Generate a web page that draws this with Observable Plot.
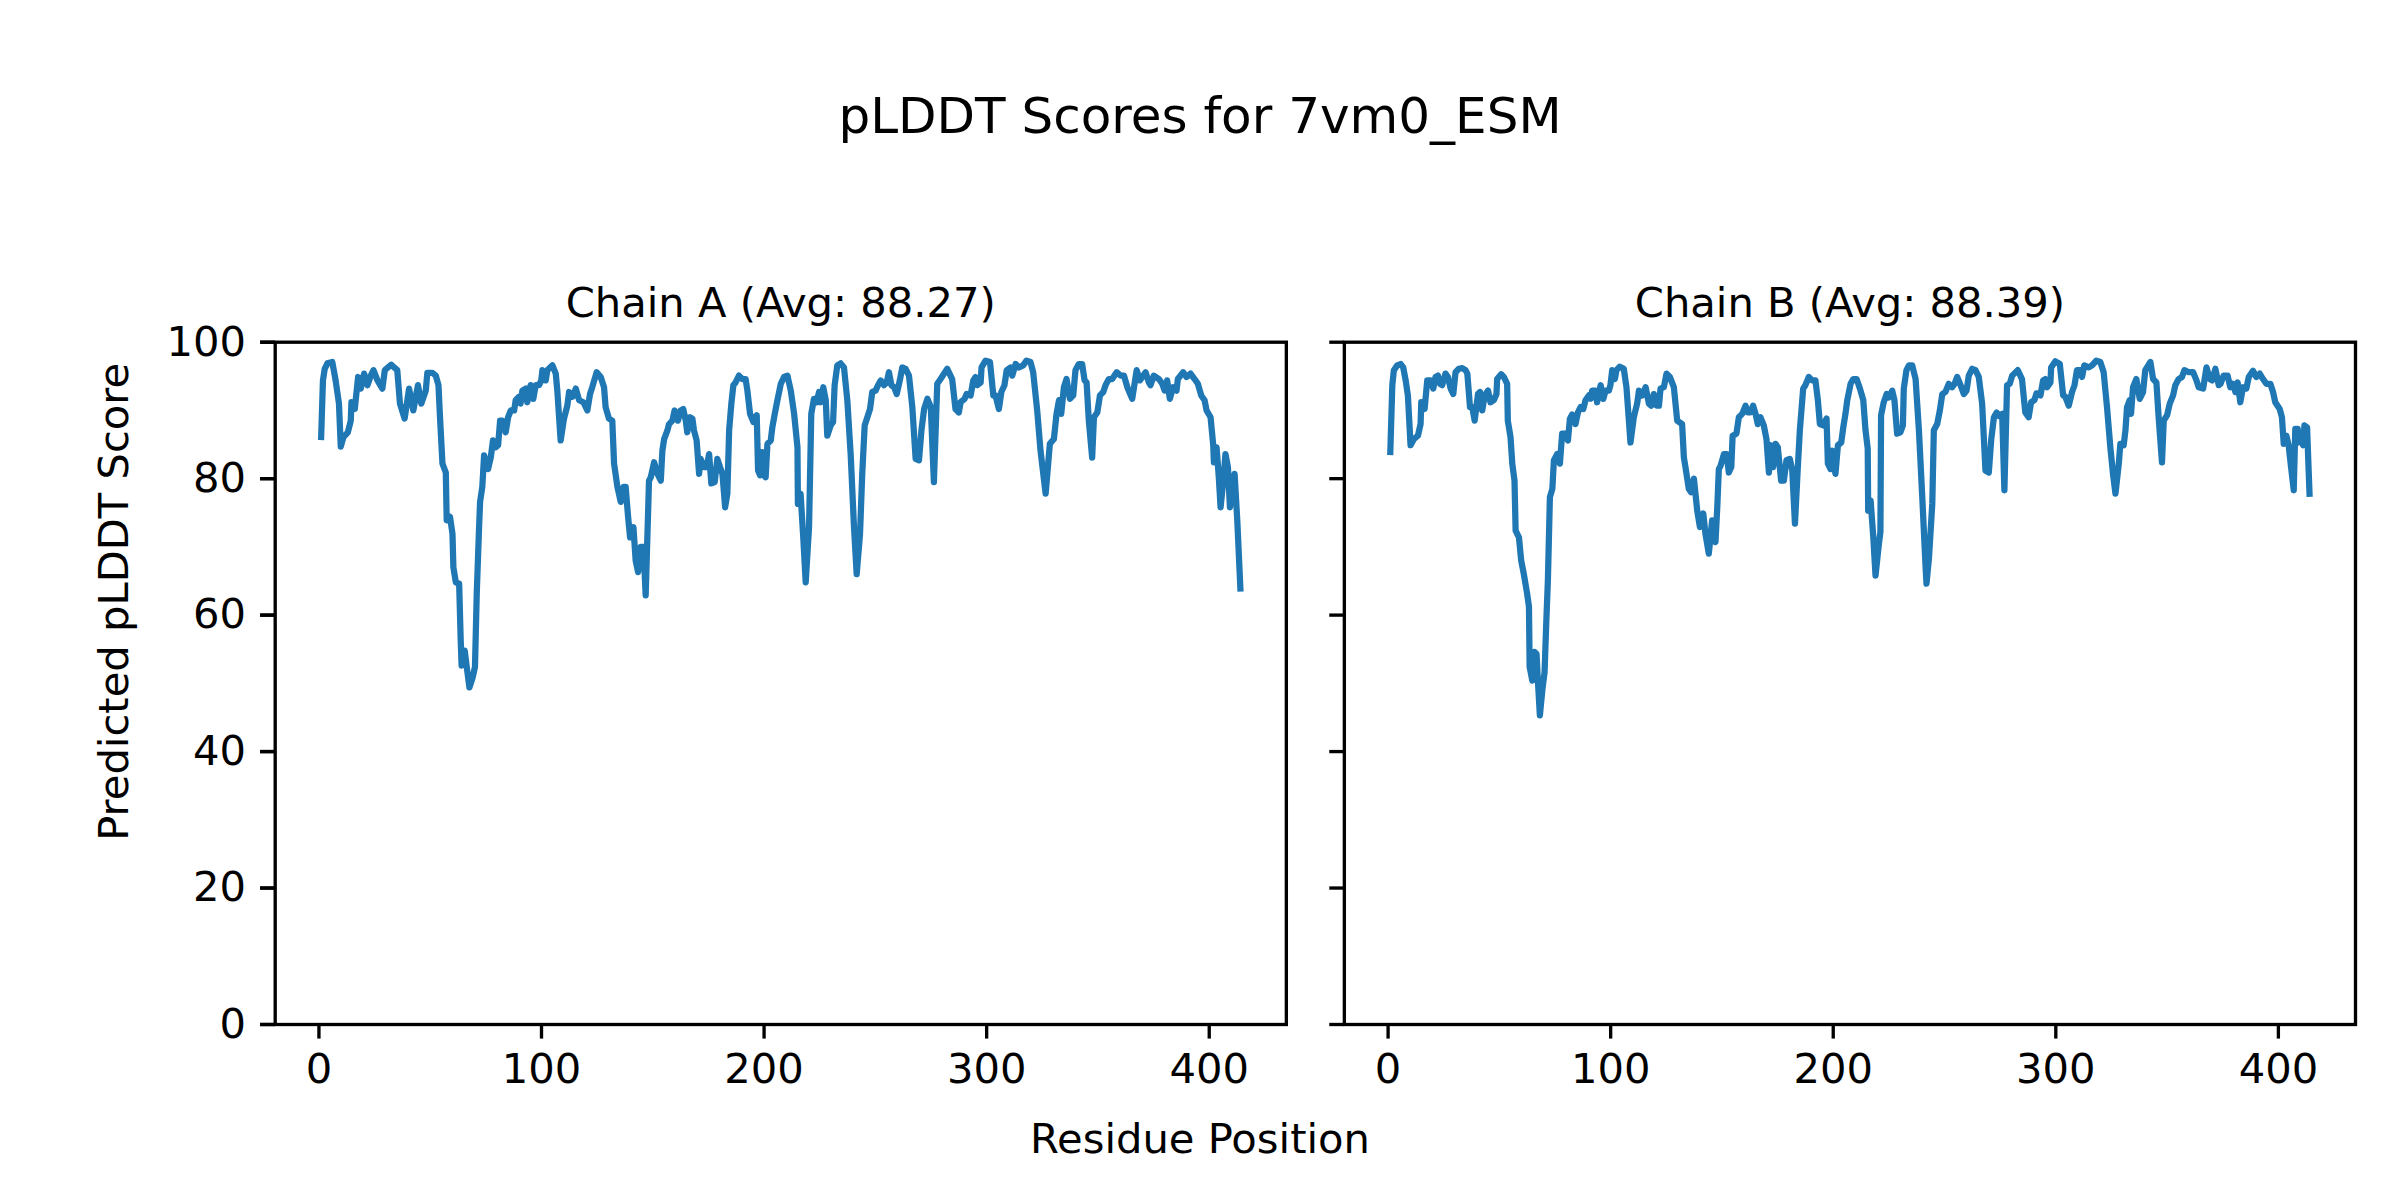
<!DOCTYPE html>
<html>
<head>
<meta charset="utf-8">
<script src="https://cdn.jsdelivr.net/npm/d3@7"></script>
<script src="https://cdn.jsdelivr.net/npm/@observablehq/plot@0.6"></script>
<style>
  html, body { margin: 0; padding: 0; background: #fff; }
  #wrap { position: relative; width: 2400px; height: 1200px; background: #fff; font-family: "DejaVu Sans", sans-serif; color: #000; }
  #wrap svg { position: absolute; left: 0; top: 0; }
  .lbl { position: absolute; white-space: nowrap; text-align: center; }
</style>
</head>
<body>
<div id="wrap"></div>
<script>
const figureTitle = "pLDDT Scores for 7vm0_ESM";
const xLabel = "Residue Position";
const yLabel = "Predicted pLDDT Score";
const chains = ["A", "B"];
const chainAvg = [88.27, 88.39];
const xTicks = [0, 100, 200, 300, 400];
const yTicks = [0, 20, 40, 60, 80, 100];

const chainA_residue = [1,1.8,2.6,3.8,6,7.5,9,9.8,11,13,14.3,14.6,16.1,17.6,18.8,20.3,21.8,23.3,24.5,26.3,28.5,29.6,32.5,35.2,36.4,38.5,40.5,42.4,44.5,46,48,48.7,51,52.5,53.7,54.4,55.5,57,57.4,58.9,60,60.4,61.5,63,63.7,64.1,65.5,66.4,67.6,69.1,70.1,70.9,71.9,72.4,73.4,74.2,76,77.2,78.2,79.4,80.5,81.4,82.4,83.9,85,86.2,87.7,88.4,89.9,90.6,91.4,92.9,93.6,95.1,96.3,97.4,98.9,99.9,100.4,101.9,102.6,104.9,106.4,107.1,107.9,108.6,110.1,111.6,112.4,113.9,115.4,116.9,118.8,120.6,121.8,122.8,124.8,126.6,
128.1,128.8,130.3,131.8,132.6,134.1,135.6,136.8,137.8,138.9,139.8,141.3,142.3,143.4,144.6,145.8,146.8,148.3,149.1,150.6,152.1,153.6,154.3,155.1,156.6,157.3,158.8,159.8,161.3,162.5,163.7,164.8,165.5,166.7,167.8,168.5,169.7,170.8,171.5,173,174.2,175.3,176.3,177.8,179,180.2,181.3,182.5,183.5,184.3,185.3,186.2,187.2,188.7,190.2,191.7,192.5,193.7,195.2,196.7,197.3,198.2,199.2,200,200.7,201.5,203,203.7,204.8,206,207.5,209,210.5,212,213.5,215,215.2,216.4,217.6,218.7,220.2,221.2,222.4,223.6,224.7,225.4,226.6,227.7,228.4,229.9,231,231.7,232.9,234.4,235.9,237.4,238.9,240.4,241.6,243.1,244.1,245.2,246.4,247.6,248.6,250.1,251.2,252.4,253.9,255.1,256.1,257.2,258.4,259.6,261.1,262.1,263.6,265.1,266.6,268.1,269.6,270.7,271.9,273.4,274.9,276.3,277.8,279.3,
282.3,284.5,286,287.5,288.3,290.1,291,292.8,294,295,295.8,297.3,297.7,299.5,301.5,303,304,305.5,306.6,308,309,310.7,311.5,313,314.5,316.4,317.9,319.7,320.9,322.7,324.2,326.5,328.4,330.2,331.4,332.5,333.5,334.7,335.9,337.4,338.9,339.9,341.4,342.9,344,344.9,345.9,347.4,348.2,349.7,350.9,352.4,353.4,354.9,356.4,358.4,360.2,361.7,363.2,365.4,366.2,367.4,368.9,369.9,371.4,372.9,373.6,375.1,377.4,378.9,380,381.1,382.3,383.8,385.3,385.9,388.3,389.8,391.6,393.4,394.9,396.4,397.9,398.8,400.6,401.8,402.1,403.3,404.3,405.1,406.3,407.3,408.4,409.3,410.3,411.4,412.6,414];
const chainA_plddt = [86.1,94.4,96.1,96.9,97.1,94.4,91,84.7,86.1,86.8,88.5,91.2,90.2,94.9,93.2,95.4,93.7,95.1,95.9,94.4,93.2,95.9,96.7,95.9,91,88.8,93.2,90,93.7,91,92.9,95.5,95.5,95.1,93.7,89,82.2,80.9,73.9,74.4,71.9,67,64.8,64.6,56.3,52.6,54.8,52.4,49.4,50.9,52.4,63.1,72.4,76.6,78.8,83.4,81.4,83.1,85.6,84.6,84.9,88.5,88.5,86.8,89,90,90,91.5,92,91,92.9,93.2,91.2,93.7,91.7,93.7,93.7,94.4,95.9,94.4,95.9,96.6,95.4,92.9,89,85.6,88.8,90.7,92.7,92,93.2,91.5,91.2,90,92.4,93.4,95.6,94.9,
93.4,90.5,88.8,88.5,82.2,78.8,76.6,78.8,78.8,74.4,71.4,72.9,68,66.3,70,70,62.9,79.7,80.2,82.4,80.7,79.7,84.1,85.8,87.1,88,88.5,90,88.5,90,90.2,88.5,86.8,89,88.8,87.1,85.6,80.7,82.9,81.7,81.7,83.6,79.3,79.5,82.9,81.7,80.7,75.8,77.8,87.1,91,93.7,94.1,95.1,94.6,94.6,92.9,89.5,88.3,89.3,81.2,80.5,83.9,80.5,80.2,85.1,85.6,87.5,89.5,91.5,93.9,94.9,95.1,92.9,89.5,84.6,76.3,77.8,71.4,64.8,72.9,89.5,91.7,91.2,92.7,91.2,93.4,91.5,86.3,87.8,88.3,93.7,96.6,96.9,96.3,91.5,83.6,72.9,66,71.9,80.7,87.8,89,90.2,92.7,92.9,93.7,94.4,93.7,94.1,95.6,93.7,93.4,92.4,94.6,96.3,96.1,95.1,90.5,82.9,82.7,87.1,90.2,91.7,90.5,79.5,93.9,94.6,
96.1,94.6,90.2,89.7,91.2,91.7,92.4,92.2,94.4,94.9,93.7,94.1,96.3,97.3,97.1,92.2,92.2,90.2,92.7,93.7,95.9,96.3,95.1,96.8,96.3,96.6,97.3,97.1,95.6,90,84.1,77.8,85.1,85.8,89.5,91.5,89.5,93.4,94.6,91.7,92.2,95.9,96.8,96.8,94.4,94.1,88.5,83.1,89,89.7,92.2,92.7,93.7,94.6,94.6,95.6,95.1,95.1,93.4,91.7,93.4,95.9,94.4,94.9,95.6,94.1,93.7,95.1,94.6,93.9,92.9,94.4,91.7,93.4,92.9,94.6,95.6,94.9,95.4,94.6,93.9,92.2,91.5,90,89,84.9,82.4,84.6,80.2,75.8,79.7,83.6,81.7,75.8,78,80.7,73.9,63.9];

const chainB_residue = [1,1.9,2.6,4.1,5.6,6.8,7.9,8.9,10.1,11.6,13.4,14.6,14.9,16.4,17.6,19.1,20.3,21.3,22.4,23.3,24.3,25.8,26.9,28.1,29.3,30.3,31.8,33.3,34.8,35.6,36.8,37.8,38.9,40.4,41.3,42.3,43.4,44.9,46,47.5,48.7,49,50.8,52,53.5,53.8,55,55.8,56.8,57.3,58.8,59.8,61,62.5,63.3,63.6,64.8,65.8,66.7,67.3,68.2,69.3,70.3,71.1,71.8,72.7,73.8,74.5,76,77.2,78.2,79.7,80.8,81.7,82.7,84.2,85.3,86.5,87.7,88.7,90.2,91,91.7,93.2,93.9,95.5,96.7,97.7,99.2,99.9,100.7,101.9,102.6,104.1,105.9,107.1,108.2,108.9,110.4,111.9,112.7,114.2,115.7,117.2,118.2,119.4,120.6,121.7,122.4,123.9,125.1,126.6,
128.4,129.9,132.1,132.9,133.6,135.1,136.2,137.4,138.9,140.1,141.6,142.6,144.1,145.6,147.1,147.9,148.6,149.4,150.9,152.1,153.1,154.2,154.8,156.5,157.6,159.1,160.6,161.6,162.8,164,165.1,166.1,167.3,168.8,170,171.1,171.8,173,174.1,175.1,176.6,177.8,179,180.5,181.6,182.8,184.1,185,186.5,187.5,189,190.5,192,193.1,194,195.5,197,197.6,198.8,199.5,201,202.1,203.6,204.5,205.5,206.3,207.8,209,210.5,212,213.5,214.5,215.5,215.7,216.8,218,219,220.5,221.2,221.5,222.7,224,225,226.5,227.5,228.7,230.2,231.3,231.7,232.9,234,235.5,237,238.5,240,241.5,241.9,243,244.5,245.2,246.7,247.9,249,250.4,251.9,253.4,254.5,255.7,257.2,258.7,259.9,260.9,262.4,263.9,265.4,266.9,268.4,269.9,271,272.2,273.4,274.4,275.9,276.9,278.1,279.3,280.4,
282.9,284.8,286.3,287.8,288.9,290.4,291.3,293.1,294.3,295.3,296.1,297.6,297.9,299.8,301.8,303.3,304.3,305.8,307.3,308.4,309.5,311,311.8,312.8,314.8,316.3,318.2,320,321.5,323,324.5,325.7,326.8,328.3,329,330.5,331.3,332,333.2,333.8,334.7,336.2,337.7,339.2,340.2,342.5,343.7,345.2,346.2,347.7,348.5,350,351.2,352.7,353.7,355.2,356.7,357.8,359.7,361.7,363.2,364.2,366.2,367.7,369.2,370.2,371.7,373.2,374,375.4,377.2,378.4,379.6,380.7,381.7,382.9,384.1,385.6,386.7,388.6,390.1,391.6,393.1,394.6,396.4,397.6,398.6,400.6,401.6,402.4,403.6,404.6,405.7,406.9,407.6,408.7,409.1,409.9,411.1,411.7,412.9,413.6,414];
const chainB_plddt = [83.9,93.7,95.9,96.6,96.8,96.3,94.4,92.2,84.9,85.8,86.3,88,91.2,90.2,94.4,94.4,93.2,94.9,95.1,93.9,93.7,95.4,94.9,93.2,92.4,95.6,96.1,96.2,95.9,95.4,90.5,90.5,88.5,92.4,92.7,90,92.2,92.9,91.2,91.5,92.4,94.6,95.3,94.9,93.9,88.5,86.1,82.2,79.7,72.4,71.4,68,66,63.1,61.2,52.4,50.4,54.6,54.3,50.4,45.3,49,51.6,59.2,65.1,77.3,78.5,82.7,83.6,82.2,86.6,86.6,85.6,88.8,89.4,88,89.7,90.5,90.2,91.5,92.2,91.7,92.9,92.9,91.2,93.7,91.7,92.9,92.9,93.7,95.9,94.6,95.9,96.4,96.1,93.4,88.5,85.3,89,91,92.9,92.2,93.4,91,90.7,92.4,90.7,90.7,93.2,93.4,95.4,94.9,
93.4,88.5,88,83.1,81.7,78.5,78,80,75.3,72.9,74.9,71.9,69,73.9,70.7,75.8,81.4,81.9,83.6,83.6,80.9,81.7,86.3,86.6,89,89.5,90.7,89.7,89.7,90.7,89.5,88,89,87.8,85.8,80.9,84.9,81.7,85.1,84.6,79.7,79.7,82.7,82.9,81.2,73.4,81.7,87.1,93.2,93.7,94.9,94.4,94.4,91.5,88,87.8,88.8,82.2,81.4,84.1,80.7,84.9,85.3,87.5,89.5,91.5,93.9,94.6,94.6,93.2,91.5,87.1,84.4,75.3,76.8,71.4,65.8,70.4,72.2,89.3,91.2,92.4,91.9,92.9,91.5,86.6,86.8,87.8,93.2,95.9,96.6,96.6,94.6,87.1,77.3,67,64.6,68.3,76.3,87.1,88,90,92.4,92.7,93.9,93.4,93.9,94.9,93.7,92.4,92.9,95.1,96.1,95.9,94.9,91,81.2,80.9,85.8,89,89.7,89.2,89.5,78.3,93.7,93.9,95.1,
95.9,94.6,89.7,89,91.2,91.5,92.5,92.2,94.4,94.6,93.4,94.1,96.3,97.2,96.8,92.2,92,90.7,92.7,93.7,95.9,95.9,94.9,96.6,96.3,96.6,97.3,97.1,95.6,90.5,84.6,80.7,77.8,82.2,85.1,84.9,87.1,90.5,91.5,89.5,93.4,94.6,91.7,92.7,95.9,97.1,94.6,94.1,89,82.4,88.5,89.3,91,92.2,93.7,94.6,94.9,95.9,95.6,95.6,94.4,93.4,93.2,96.3,94.6,94.4,96.1,93.7,93.9,95.1,95.1,93.4,93.9,92.7,94.1,91.2,93.4,93.2,94.9,95.8,94.9,95.4,94.6,93.9,93.9,92.7,91.2,90.2,89,85.1,86.3,84.9,81.7,78.3,87.3,87.3,85.3,86.3,84.9,87.8,87.5,81.2,77.8];

const residues = {A: chainA_residue, B: chainB_residue};
const scores = {A: chainA_plddt, B: chainB_plddt};
const rows = chains.flatMap(c => residues[c].map((r, i) => ({chain: c, residue: r, plddt: scores[c][i]})));
const facetTitle = c => `Chain ${c} (Avg: ${chainAvg[chains.indexOf(c)].toFixed(2)})`;

const PX = 300 / 72; // points to pixels at 300 dpi
const fs = 10 * PX;

const chart = Plot.plot({
  width: 2400,
  height: 1200,
  marginLeft: 274.7,
  marginRight: 45,
  marginTop: 341.7,
  marginBottom: 176,
  style: {fontFamily: "DejaVu Sans", fontSize: fs + "px", color: "#000", background: "transparent"},
  fx: {domain: chains, paddingInner: 0.05425, paddingOuter: 0, round: false, label: null},
  x: {domain: [-19.65, 434.65], label: null},
  y: {domain: [0, 100], label: null},
  marks: [
    Plot.line(rows, {x: "residue", y: "plddt", fx: "chain", stroke: "#1f77b4", strokeWidth: 1.5 * PX, strokeLinejoin: "round", strokeLinecap: "square"}),
    Plot.frame({stroke: "#000", strokeWidth: 0.8 * PX}),
    Plot.axisFx({anchor: "top", tickSize: 0, tickPadding: 6 * PX, tickFormat: facetTitle, fontSize: fs, label: null}),
    Plot.axisX({ticks: xTicks, tickSize: 3.5 * PX, tickPadding: 3.5 * PX, strokeWidth: 0.8 * PX, fontSize: fs, tickFormat: d => String(d), label: null}),
    Plot.axisY({ticks: yTicks, tickSize: 3.5 * PX, tickPadding: 3.5 * PX, strokeWidth: 0.8 * PX, fontSize: fs, tickFormat: d => String(d), label: null}),
    Plot.axisY({ticks: yTicks, tickSize: 3.5 * PX, strokeWidth: 0.8 * PX, tickFormat: () => "", facetAnchor: null, label: null})
  ]
});

const wrap = document.getElementById("wrap");
wrap.appendChild(chart);

function addLabel(text, size, cx, baseline, rotate) {
  const d = document.createElement("div");
  d.className = "lbl";
  d.textContent = text;
  const W = 1200, H = size;
  d.style.fontSize = size + "px";
  d.style.lineHeight = H + "px";
  d.style.width = W + "px";
  d.style.height = H + "px";
  // baseline offset from top of a line box (DejaVu Sans ascent .928, descent .236)
  const base = (H - 1.164 * size) / 2 + 0.928 * size;
  if (!rotate) {
    d.style.left = (cx - W / 2) + "px";
    d.style.top = (baseline - base) + "px";
  } else {
    // rotated -90deg: baseline lies to the right of the centre
    const off = base - H / 2;
    const xc = baseline - off;
    d.style.left = (xc - W / 2) + "px";
    d.style.top = (cx - H / 2) + "px";
    d.style.transform = "rotate(-90deg)";
  }
  wrap.appendChild(d);
}
addLabel(figureTitle, 12 * PX, 1200, 133, false);
addLabel(xLabel, fs, 1200, 1153, false);
addLabel(yLabel, fs, 602, 128, true);
</script>
</body>
</html>
